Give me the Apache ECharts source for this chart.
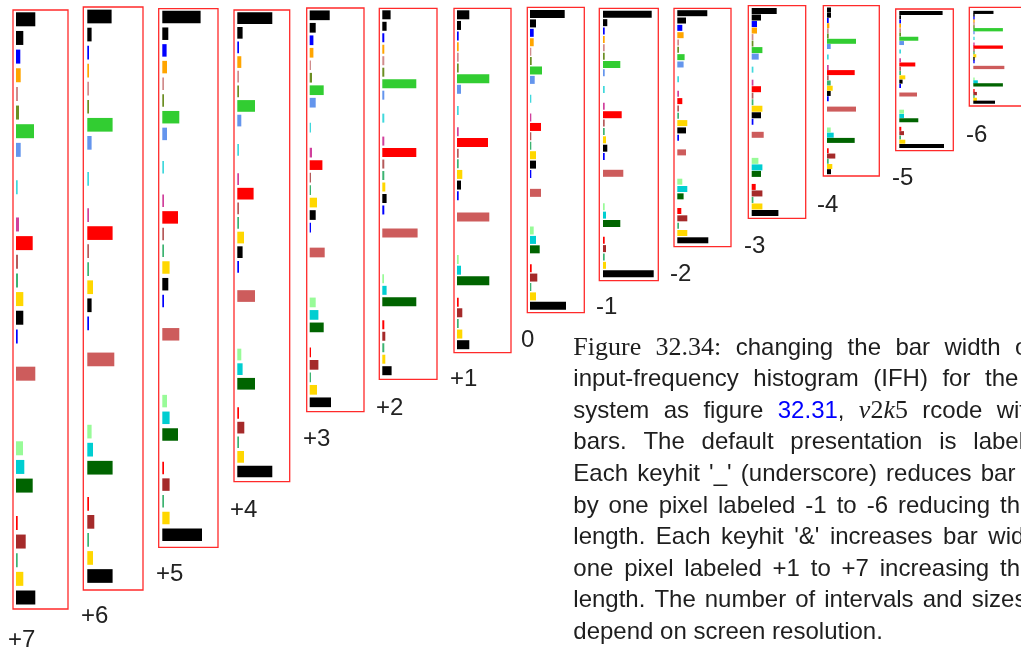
<!DOCTYPE html>
<html><head><meta charset="utf-8">
<script src="https://cdn.jsdelivr.net/npm/echarts@6/dist/echarts.min.js"></script>
<style>html,body{margin:0;padding:0;background:#fff}#c{width:1021px;height:650px}</style>
</head><body><div id="c"></div>
<script>
// 32 histogram intervals (rows, top to bottom)
const categories = Array.from({length:32}, (_, i) => 'I' + (i + 1));
const rowColors = ['#000000','#000000','#0000ff','#ffa500','#d08c8c','#6b8e23','#32cd32','#6495ed',
  '#ffffff','#40d8dc','#ffffff','#d0409c','#ff0000','#b55a5a','#3cb371','#ffd700',
  '#000000','#0000ff','#ffffff','#cd5c5c','#ffffff','#ffffff','#ffffff','#98fb98',
  '#00ced1','#006400','#ffffff','#ff0000','#a52a2a','#3cb371','#ffd700','#000000'];
const panelLabels = ['+7','+6','+5','+4','+3','+2','+1','0','-1','-2','-3','-4','-5','-6'];

// bar lengths per presentation
const lenP7 = [19.3,7.3,4.3,4.7,2,3,18,4.7,0,1.7,0,3,16.7,2,2,7.3,7.3,1.7,0,19.3,0,0,0,7,8.3,16.7,0,1.7,9.7,1.7,7.3,19.3];
const lenP6 = [24.3,4.3,1.7,1.7,1.7,1.7,25.3,4.3,0,1.7,0,1.7,25.3,1.7,1.7,5.7,4.3,1.7,0,27,0,0,0,4.3,5.7,25.3,0,1.7,7,1.7,5.7,25.3];
const lenP5 = [38.3,6,4.3,4.7,1.7,1.7,17,4.7,0,1.7,0,1.7,15.7,1.7,1.7,7.3,6,1.7,0,17,0,0,0,4.7,7.3,15.7,0,1.7,7.3,1.7,7.3,39.7];
const lenP4 = [35,5.3,1.7,4,1.7,1.7,17.7,4,0,1.7,0,1.7,16.3,1.7,1.7,6.7,5.3,1.7,0,17.7,0,0,0,4,5.3,17.7,0,1.7,7,1.7,6.7,35];
const lenP3 = [20,6,3.7,3.7,1.3,2.3,14,6,0,1.3,0,2.3,12.7,1.3,1.3,7.3,6,1.3,0,15,0,0,0,6,8.7,14,0,1.3,8.7,1.3,7.3,21.3];
const lenP2 = [8.3,4.3,2,2,2,2,34,2,0,2,0,2,34,2,2,3,4.3,2,0,35.3,0,0,0,1.7,4.3,34,0,2,3,2,3,9.3];
const lenP1 = [12.3,4,1.7,1.7,1.7,1.7,32.3,4,0,1.7,0,1.7,31,1.7,1.7,5.3,4,1.7,0,32.3,0,0,0,1.7,4,32.3,0,1.7,5.3,1.7,5.3,12.3];
const lenP0 = [34.7,6,3.7,3.7,1.3,1.7,12,4.7,0,1.3,0,1.3,11,1.3,1.3,6,6,1.3,0,11,0,0,0,3.7,6,9.7,0,1.7,7.3,1.3,6,36];
const lenM1 = [48.7,4.3,1.7,1.7,1.7,1.7,17.3,1.7,0,1.7,0,1.7,18.7,1.7,1.7,3,4.3,1.7,0,20.3,0,0,0,1.7,3,17.3,0,1.7,3,1.7,3,50.7];
const lenM2 = [30,8.7,5,6.3,1.7,1.7,7.3,6.3,0,1.7,0,1.7,5,1.7,1.7,10,8.7,1.7,0,8.7,0,0,0,5,10,6.3,0,4,10,1.7,10,31];
const lenM3 = [25,9.3,5.3,5.3,1.7,1.7,10.7,7,0,1.7,0,1.7,9.3,1.7,1.7,10.7,9.3,1.7,0,12,0,0,0,6.7,10.7,9.3,0,4,10.7,1.7,10.7,26.7];
const lenM4 = [4,4,1.7,2.3,1.7,1.7,29,3.7,0,1.7,0,1.7,27.7,1.7,3.7,5.7,3.7,1.7,0,29,0,0,0,3.7,6.7,27.7,0,1.7,8.3,1.7,5.3,4];
const lenM5 = [43.3,1.7,1.7,1.7,1.7,1.7,19,4.7,0,1.7,0,1.7,16,1.7,1.7,6,3.3,1.7,0,17.7,0,0,0,4.7,4.7,19,0,2,4.7,1.7,6,44.7];
const lenM6 = [22.3,1.5,1.5,1.5,1.5,1.5,32.7,1.5,0,1.5,0,1.5,32.7,1.5,1.5,3.3,1.5,1.5,0,34.3,0,0,0,1.5,5,32.7,0,1.5,4,1.5,4,24];
const panelValues = [lenP7,lenP6,lenP5,lenP4,lenP3,lenP2,lenP1,lenP0,lenM1,lenM2,lenM3,lenM4,lenM5,lenM6];

// layout (pixels): frame [x0,y0,x1,y1], bar start x, first & last row centres, bar thickness, label pos
const layout = [
  {f:[13,10,68,609], bx:16, c1:19.3, c2:597.5, t:14, lb:[8,640]},
  {f:[83.3,7,143,590], bx:87.3, c1:16.5, c2:576, t:13.7, lb:[81,616]},
  {f:[158.7,8.7,218,547.3], bx:162.3, c1:17, c2:534.7, t:12.5, lb:[156,574]},
  {f:[234,10,289.7,481.7], bx:237.3, c1:18.2, c2:471.5, t:11.7, lb:[230,510]},
  {f:[306.7,8,364,411.7], bx:309.7, c1:15.3, c2:402.3, t:9.7, lb:[303,439]},
  {f:[379.3,8.3,437,379.3], bx:382.3, c1:14.8, c2:370.7, t:9, lb:[376,408]},
  {f:[454,8.3,511,352.7], bx:457, c1:14.8, c2:344.7, t:9, lb:[450,379]},
  {f:[527.3,7.3,584.3,312.7], bx:530, c1:14, c2:305.8, t:8, lb:[521,340]},
  {f:[599.3,8.3,658.3,280.7], bx:603, c1:14.3, c2:273.7, t:7, lb:[596,307]},
  {f:[674,8.3,731,246.7], bx:677.3, c1:13.2, c2:240.3, t:6, lb:[670,274]},
  {f:[748.3,5.7,805.7,218.3], bx:751.7, c1:11, c2:213, t:6, lb:[744,246]},
  {f:[823.3,5.7,879.3,176], bx:827, c1:10, c2:171.7, t:5, lb:[817,205]},
  {f:[895.7,9,953.3,150.7], bx:899.3, c1:13, c2:146, t:4, lb:[892,178]},
  {f:[969.3,7.3,1026,106], bx:973.3, c1:12.3, c2:102.3, t:3.3, lb:[966,135]}
];

const SANS = '"Liberation Sans", Arial, sans-serif';
const SERIF = '"Liberation Serif", "Times New Roman", serif';
const FS = 24;
// caption words per line; the text is justified, so each line has a start x and the x of its last visible word
const captionLines = [
  [['Figure','serif'],['32.34:','serif'],['changing'],['the'],['bar'],['width'],['of']],
  [['input-frequency'],['histogram'],['(IFH)'],['for'],['the']],
  [['system'],['as'],['figure'],['32.31,','link'],['v2k5','math'],['rcode'],['with']],
  [['bars.'],['The'],['default'],['presentation'],['is'],['labeled']],
  [['Each'],['keyhit'],["'_'"],['(underscore)'],['reduces'],['bar']],
  [['by'],['one'],['pixel'],['labeled'],['-1'],['to'],['-6'],['reducing'],['the']],
  [['length.'],['Each'],['keyhit'],["'&'"],['increases'],['bar'],['width']],
  [['one'],['pixel'],['labeled'],['+1'],['to'],['+7'],['increasing'],['the']],
  [['length.'],['The'],['number'],['of'],['intervals'],['and'],['sizes']],
  [['depend on screen resolution.']]
];
const lineSpans = [[573.3,1015],[573.3,985],[573.3,996.7],[573.3,973.3],[573.3,980.7],
  [573.3,1000],[573.3,988.3],[573.3,1000],[573.3,971.7],[573.3,null]];

const grids = [], xAxes = [], yAxes = [], series = [], graphics = [];
layout.forEach((L, i) => {
  const sp = (L.c2 - L.c1) / 31;
  const w = L.f[2] - L.bx;
  grids.push({left: L.bx, top: L.c1 - sp / 2, width: w, height: sp * 32, show: false});
  xAxes.push({gridIndex: i, type: 'value', min: 0, max: w, show: false});
  yAxes.push({gridIndex: i, type: 'category', data: categories, inverse: true, show: false});
  series.push({
    type: 'bar', xAxisIndex: i, yAxisIndex: i, barWidth: L.t, silent: true,
    data: panelValues[i].map((v, j) => ({value: v, itemStyle: {color: rowColors[j]}}))
  });
  graphics.push({type: 'rect', silent: true,
    shape: {x: L.f[0], y: L.f[1], width: L.f[2] - L.f[0], height: L.f[3] - L.f[1]},
    style: {fill: 'none', stroke: '#ff2a2a', lineWidth: 1.3}});
  graphics.push({type: 'text', silent: true, x: L.lb[0], y: L.lb[1],
    style: {text: panelLabels[i], font: FS + 'px ' + SANS, fill: '#222', verticalAlign: 'middle', align: 'left'}});
});

const mctx = document.createElement('canvas').getContext('2d');
function measure(text, font) { mctx.font = font; return mctx.measureText(text).width; }

const TXT = '#1e1e1e';
const sansFont = FS + 'px ' + SANS, serifFont = '26px ' + SERIF, italFont = 'italic 26px ' + SERIF;
function wordStyle(word, kind) {
  const style = {text: word, font: sansFont, fill: TXT, verticalAlign: 'middle', align: 'left'};
  let w;
  if (kind === 'serif') { style.font = serifFont; w = measure(word, serifFont); }
  else if (kind === 'link') {
    style.text = '{l|' + word.slice(0, -1) + '}{p|,}';
    style.rich = {l: {fill: '#0000ff', font: sansFont}, p: {fill: TXT, font: sansFont}};
    w = measure(word, sansFont);
  } else if (kind === 'math') {
    style.text = '{i|v}{r|2}{i|k}{r|5}';
    style.rich = {i: {font: italFont, fill: TXT}, r: {font: serifFont, fill: TXT}};
    w = measure('v', italFont) + measure('2', serifFont) + measure('k', italFont) + measure('5', serifFont);
  } else { w = measure(word, sansFont); }
  return {style, w};
}

captionLines.forEach((line, k) => {
  const base = 354 + 31.6 * k;
  const items = line.map(([word, kind]) => wordStyle(word, kind));
  const [x0, xL] = lineSpans[k];
  const n = items.length;
  let gap = 0;
  if (n > 1) {
    const sumW = items.slice(0, n - 1).reduce((s, it) => s + it.w, 0);
    gap = (xL - x0 - sumW) / (n - 1);
  }
  let x = x0;
  items.forEach((it) => {
    graphics.push({type: 'text', silent: true, x: x, y: base - 6, style: it.style});
    x += it.w + gap;
  });
});

const chart = echarts.init(document.getElementById('c'), null, {renderer: 'canvas'});
chart.setOption({
  animation: false,
  backgroundColor: '#ffffff',
  grid: grids, xAxis: xAxes, yAxis: yAxes, series: series,
  graphic: graphics
});
</script></body></html>
